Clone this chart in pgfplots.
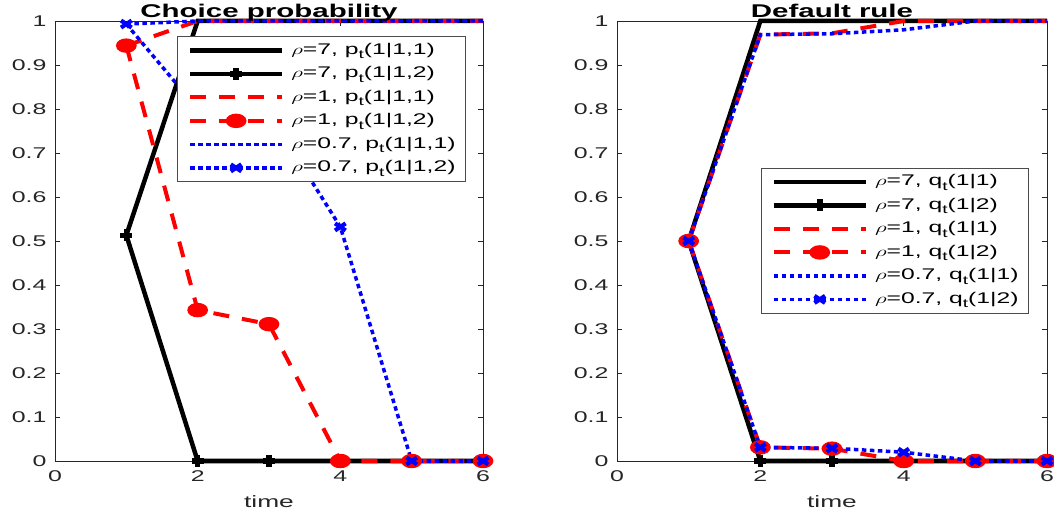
\documentclass[border=0pt]{standalone}
\usepackage{pgfplots}
\pgfplotsset{compat=1.18}
\usepackage{fontspec}
\setmainfont[FakeStretch=1.6]{Liberation Sans}
\definecolor{axgray}{gray}{0.15}
\newcommand{\rr}{\scalebox{1.6}[1]{$\rho$}}
\newcommand{\sub}[1]{\raisebox{-4.5bp}{\fontsize{12}{12}\selectfont #1}}
\pgfplotsset{
  myax/.style={
    scale only axis, height=440bp,
    xmin=0, xmax=6, ymin=0, ymax=1,
    xtick={0,2,4,6},
    ytick={0,0.1,0.2,0.3,0.4,0.5,0.6,0.7,0.8,0.9,1},
    tick pos=both, tick align=inside,
    major tick length=5bp,
    axis line style={axgray, line width=0.9bp},
    every tick/.style={axgray, line width=0.9bp},
    /pgf/number format/assume math mode=true,
    ticklabel style={text=axgray, font=\fontsize{15.6}{16}\selectfont},
    xticklabel style={yshift=-6bp},
    yticklabel style={xshift=-5bp},
    xlabel={time},
    xlabel style={at={(0.5,0)}, anchor=base, yshift=-46bp, text=axgray, font=\fontsize{16.5}{18}\selectfont},
    title style={at={(0.5,1)}, anchor=base, yshift=-2bp, font=\fontsize{18.5}{20}\selectfont\bfseries},
    clip=false,
    legend cell align=left,
    legend style={draw=black!70, line width=0.8bp, fill=white,
      font=\fontsize{15.5}{16}\selectfont,
      nodes={inner sep=0pt, text height=12bp, text depth=4bp},
      row sep=7.5bp, inner xsep=10bp, inner ysep=6bp,
      /tikz/every odd column/.append style={column sep=7bp}},
    legend image code/.code={\draw[mark repeat=2,mark phase=2] plot coordinates {(0bp,0bp) (46bp,0bp) (92bp,0bp)};},
  },
  s7a/.style={black, line width=4.5bp},
  s7b/.style={black, line width=4.5bp, mark=+, mark size=6bp, mark options={line width=5.5bp}},
  s1a/.style={red, line width=4bp, dash pattern=on 16bp off 13bp},
  s1b/.style={red, line width=4bp, dash pattern=on 16bp off 13bp, mark=*, mark size=5.2bp, mark options={solid, fill=red, xscale=1.6}},
  s07a/.style={blue, line width=3.5bp, dash pattern=on 4.5bp off 3.5bp},
  s07b/.style={blue, line width=3.5bp, dash pattern=on 4.5bp off 3.5bp, mark=x, mark size=5bp, mark options={solid, line width=4.2bp, xscale=1.5}},
}
\begin{document}
\begin{tikzpicture}
\begin{axis}[myax, at={(55bp,53bp)}, anchor=south west, width=428bp,
  title={Choice probability},
  legend style={at={(0.96,0.966)}, anchor=north east}]
\addplot[s7a] coordinates {(1,0.513)(2,1)(3,1)(4,1)(5,1)(6,1)};
\addlegendentry{\rr=7, p\sub{t}(1|1,1)}
\addplot[s7b] coordinates {(1,0.513)(2,0)(3,0)(4,0)(5,0)(6,0)};
\addlegendentry{\rr=7, p\sub{t}(1|1,2)}
\addplot[s1a] coordinates {(1,0.944)(2,1)(3,1)(4,1)(5,1)(6,1)};
\addlegendentry{\rr=1, p\sub{t}(1|1,1)}
\addplot[s1b] coordinates {(1,0.944)(2,0.343)(3,0.311)(4,0)(5,0)(6,0)};
\addlegendentry{\rr=1, p\sub{t}(1|1,2)}
\addplot[s07a] coordinates {(1,0.993)(2,1)(3,1)(4,1)(5,1)(6,1)};
\addlegendentry{\rr=0.7, p\sub{t}(1|1,1)}
\addplot[s07b] coordinates {(1,0.993)(2,0.80)(3,0.79)(4,0.532)(5,0)(6,0)};
\addlegendentry{\rr=0.7, p\sub{t}(1|1,2)}
\end{axis}
\begin{axis}[myax, at={(617bp,53bp)}, anchor=south west, width=430bp,
  title={Default rule},
  legend style={at={(0.958,0.667)}, anchor=north east}]
\addplot[s7a] coordinates {(1,0.5)(2,1)(3,1)(4,1)(5,1)(6,1)};
\addlegendentry{\rr=7, q\sub{t}(1|1)}
\addplot[s7b] coordinates {(1,0.5)(2,0)(3,0)(4,0)(5,0)(6,0)};
\addlegendentry{\rr=7, q\sub{t}(1|2)}
\addplot[s1a] coordinates {(1,0.5)(2,0.969)(3,0.972)(4,1)(5,1)(6,1)};
\addlegendentry{\rr=1, q\sub{t}(1|1)}
\addplot[s1b] coordinates {(1,0.5)(2,0.031)(3,0.028)(4,0)(5,0)(6,0)};
\addlegendentry{\rr=1, q\sub{t}(1|2)}
\addplot[s07a] coordinates {(1,0.5)(2,0.969)(3,0.971)(4,0.98)(5,1)(6,1)};
\addlegendentry{\rr=0.7, q\sub{t}(1|1)}
\addplot[s07b] coordinates {(1,0.5)(2,0.031)(3,0.029)(4,0.02)(5,0)(6,0)};
\addlegendentry{\rr=0.7, q\sub{t}(1|2)}
\end{axis}
\pgfresetboundingbox
\path (0bp,0bp) rectangle (1054bp,514bp);
\end{tikzpicture}
\end{document}
